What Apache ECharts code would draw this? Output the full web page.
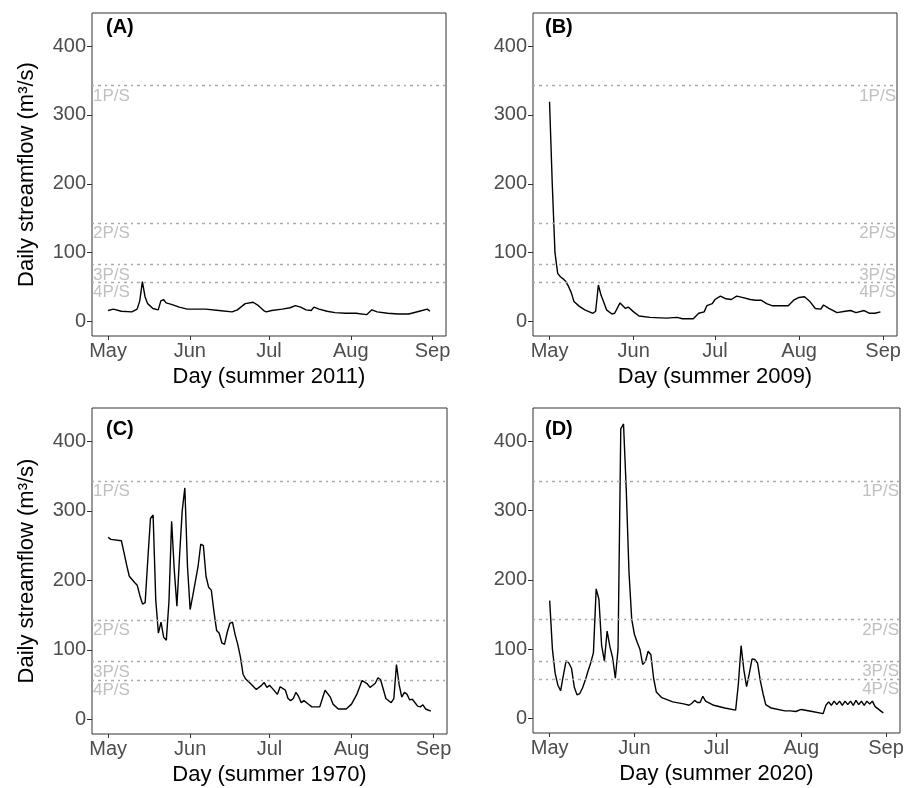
<!DOCTYPE html>
<html>
<head>
<meta charset="utf-8">
<script src="https://cdn.jsdelivr.net/npm/echarts@6/dist/echarts.min.js"></script>
<style>
  html, body { margin: 0; padding: 0; background: #fff; }
  #main { width: 907px; height: 788px; }
</style>
</head>
<body>
<div id="main"></div>
<script>
var tickDays = [0, 31, 61, 92, 123];
var tickLabels = ['May', 'Jun', 'Jul', 'Aug', 'Sep'];
var yTicks = [0, 100, 200, 300, 400];

// thresholds (1P/S .. 4P/S)
var thresholdNames = ['1P/S', '2P/S', '3P/S', '4P/S'];
var thresholdValues = [343, 143, 83, 57];

var panelNames = ['(A)', '(B)', '(C)', '(D)'];
var panelYears = ['2011', '2009', '1970', '2020'];

// (A) summer 2011
var daysA = [0, 2, 5, 9, 11, 12, 13, 14, 15, 17, 19, 20, 21, 22, 24, 27, 30, 37, 42, 47, 49, 52, 55, 57, 59, 60, 62, 66, 69, 71, 73, 75, 77, 78, 80, 83, 86, 90, 94, 98, 100, 102, 106, 110, 114, 118, 121, 122];
var flowA = [16, 18, 15, 14, 18, 30, 58, 36, 26, 19, 17, 30, 32, 27, 25, 21, 18, 18, 16, 14, 17, 26, 28, 23, 16, 14, 16, 18, 20, 23, 21, 17, 16, 21, 18, 15, 13, 12, 12, 10, 17, 14, 12, 11, 11, 15, 18, 15];

// (B) summer 2009
var daysB = [0, 1, 2, 3, 4, 5, 6, 7, 8, 9, 11, 13, 16, 17, 18, 19, 20, 21, 23, 24, 26, 28, 29, 31, 33, 37, 43, 47, 49, 53, 55, 57, 58, 60, 61, 63, 65, 67, 69, 71, 74, 76, 78, 80, 82, 85, 88, 90, 92, 94, 96, 98, 100, 101, 103, 106, 109, 111, 113, 116, 118, 120, 122];
var flowB = [319, 200, 100, 70, 65, 62, 58, 51, 42, 29, 22, 17, 12, 15, 53, 38, 28, 17, 11, 12, 27, 19, 21, 14, 8, 6, 5, 6, 4, 4, 12, 14, 23, 26, 32, 37, 33, 32, 37, 35, 32, 31, 31, 26, 23, 23, 23, 31, 35, 36, 29, 19, 18, 24, 19, 13, 15, 16, 13, 16, 12, 12, 14];

// (C) summer 1970
var daysC = [0, 1, 5, 6, 7, 8, 10, 11, 12, 13, 14, 15, 16, 17, 18, 19, 20, 21, 22, 23, 24, 25, 26, 27, 28, 29, 30, 31, 32, 34, 35, 36, 37, 38, 39, 40, 41, 42, 43, 44, 45, 46, 47, 48, 49, 50, 51, 52, 54, 56, 58, 59, 60, 61, 62, 64, 65, 67, 68, 69, 70, 71, 72, 73, 74, 76, 77, 80, 81, 82, 84, 85, 87, 90, 92, 94, 96, 98, 99, 101, 102, 103, 105, 107, 108, 109, 110, 111, 112, 113, 114, 115, 117, 118, 119, 120, 122];
var flowC = [262, 259, 257, 240, 222, 206, 197, 193, 178, 166, 168, 230, 289, 294, 172, 124, 140, 118, 114, 170, 285, 215, 163, 235, 300, 333, 220, 158, 178, 220, 252, 250, 206, 190, 186, 155, 128, 124, 110, 108, 125, 138, 140, 122, 108, 90, 65, 58, 51, 43, 49, 53, 46, 49, 45, 36, 47, 42, 30, 27, 30, 39, 33, 24, 27, 21, 18, 18, 30, 42, 32, 22, 15, 15, 22, 36, 56, 51, 46, 52, 60, 57, 30, 24, 30, 79, 50, 32, 39, 36, 28, 29, 19, 18, 21, 15, 12];

// (D) summer 2020
var daysD = [0, 1, 2, 3, 4, 5, 6, 7, 8, 9, 10, 11, 12, 13, 14, 15, 16, 17, 18, 19, 20, 21, 22, 23, 24, 25, 26, 27, 28, 29, 30, 31, 32, 33, 34, 35, 36, 37, 38, 39, 41, 45, 49, 51, 52, 53, 54, 55, 56, 57, 60, 64, 68, 69, 70, 71, 72, 73, 74, 75, 76, 77, 78, 79, 81, 86, 88, 90, 92, 96, 100, 101, 102, 103, 104, 105, 106, 107, 108, 109, 110, 111, 112, 113, 114, 115, 116, 117, 118, 119, 121, 122];
var flowD = [170, 100, 65, 48, 40, 62, 83, 80, 72, 45, 34, 36, 44, 55, 68, 80, 95, 187, 172, 105, 83, 126, 104, 88, 58, 100, 418, 425, 330, 211, 143, 121, 110, 100, 78, 82, 97, 92, 58, 38, 30, 24, 21, 19, 22, 26, 23, 23, 32, 25, 19, 15, 12, 50, 105, 70, 46, 65, 86, 85, 80, 55, 36, 20, 15, 11, 11, 10, 13, 10, 7, 19, 24, 19, 25, 20, 25, 19, 25, 20, 25, 19, 26, 20, 25, 19, 25, 21, 25, 17, 11, 8];

var panelDays = [daysA, daysB, daysC, daysD];
var panelFlows = [flowA, flowB, flowC, flowD];

var grids = [
    { left: 92, top: 13, width: 354, height: 323 },
    { left: 533, top: 13, width: 364, height: 323 },
    { left: 92, top: 408, width: 355, height: 326 },
    { left: 533, top: 408, width: 367, height: 325 }
];
var titlePos = [[106, 17], [545, 17], [106, 419], [545, 419]];

var myChart = echarts.init(document.getElementById('main'));

var option = {
    backgroundColor: '#fff',
    animation: false,
    textStyle: { fontFamily: 'Liberation Sans, Arial, sans-serif' },
    title: [],
    grid: [],
    xAxis: [],
    yAxis: [],
    series: []
};

for (var i = 0; i < 4; i++) {
    var right = (i % 2 === 1);
    option.grid.push({
        left: grids[i].left, top: grids[i].top,
        width: grids[i].width, height: grids[i].height,
        show: true, borderColor: '#333', borderWidth: 1,
        backgroundColor: '#fff'
    });
    option.title.push({
        text: panelNames[i],
        left: titlePos[i][0], top: titlePos[i][1],
        padding: 0,
        textStyle: { fontSize: 20, fontWeight: 'bold', color: '#000' }
    });
    option.xAxis.push({
        type: 'value', gridIndex: i,
        min: -6.1, max: 128.1,
        name: 'Day (summer ' + panelYears[i] + ')',
        nameLocation: 'middle', nameGap: 30,
        nameTextStyle: { fontSize: 22, color: '#000' },
        axisLine: { show: false, onZero: false },
        axisTick: { show: true, length: 4, customValues: tickDays, lineStyle: { color: '#333' } },
        axisLabel: {
            customValues: tickDays, margin: 5, fontSize: 20, color: '#4d4d4d',
            formatter: function (v) { return tickLabels[tickDays.indexOf(v)]; }
        },
        splitLine: { show: false }
    });
    option.yAxis.push({
        type: 'value', gridIndex: i,
        min: -21, max: 448,
        name: right ? '' : 'Daily streamflow (m\u00B3/s)',
        nameLocation: 'middle', nameGap: 54,
        nameTextStyle: { fontSize: 22, color: '#000' },
        axisLine: { show: false, onZero: false },
        axisTick: { show: true, length: 5, customValues: yTicks, lineStyle: { color: '#333' } },
        axisLabel: { customValues: yTicks, margin: 6, fontSize: 20, color: '#4d4d4d' },
        splitLine: { show: false }
    });

    var pts = panelDays[i].map(function (d, k) { return [d, panelFlows[i][k]]; });
    option.series.push({
        type: 'line', xAxisIndex: i, yAxisIndex: i,
        data: pts, showSymbol: false, symbol: 'none',
        lineStyle: { color: '#000', width: 1.4 },
        z: 3,
        markLine: {
            silent: true, symbol: 'none',
            lineStyle: { color: '#aaa', width: 1.4, type: [2, 4, 3, 4] },
            label: {
                show: true,
                position: right ? 'insideEndBottom' : 'insideStartBottom',
                distance: [1, 2],
                color: '#c0c0c0', fontSize: 17,
                formatter: function (p) { return p.name; }
            },
            data: thresholdValues.map(function (v, k) {
                return { name: thresholdNames[k], yAxis: v };
            })
        }
    });
}

myChart.setOption(option);
</script>
</body>
</html>
